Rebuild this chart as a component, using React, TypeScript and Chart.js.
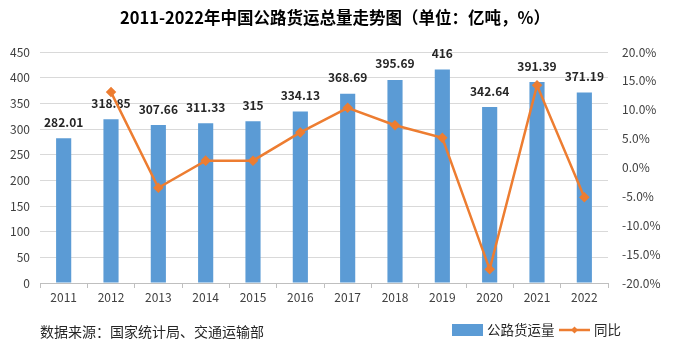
import React, { useEffect, useRef } from "react";
import { Chart, registerables } from "chart.js";

Chart.register(...registerables);

const years = ["2011", "2012", "2013", "2014", "2015", "2016", "2017", "2018", "2019", "2020", "2021", "2022"];
const freight = [282.01, 318.85, 307.66, 311.33, 315, 334.13, 368.69, 395.69, 416, 342.64, 391.39, 371.19];
const yoy = [null, 13.06, -3.51, 1.19, 1.18, 6.07, 10.34, 7.32, 5.13, -17.63, 14.23, -5.16];
const titleText = "2011-2022年中国公路货运总量走势图（单位：亿吨，%）";
const sourceText = "数据来源：国家统计局、交通运输部";
const barLabel = "公路货运量";
const lineLabel = "同比";

const FONT = "'Noto Sans CJK SC', 'Noto Sans', sans-serif";
const BLUE = "#5B9BD5";
const ORANGE = "#ED7D31";

export default function App() {
  const ref = useRef<HTMLCanvasElement>(null);
  useEffect(() => {
    const canvas = ref.current!;
    const deco = {
      id: "deco",
      beforeDatasetsDraw(chart: any) {
        const ctx = chart.ctx;
        const meta = chart.getDatasetMeta(1);
        ctx.save();
        ctx.font = `bold 12px ${FONT}`;
        ctx.fillStyle = "#262626";
        ctx.textAlign = "center";
        ctx.textBaseline = "middle";
        meta.data.forEach((el: any, i: number) => {
          ctx.fillText(String(freight[i]), el.x, el.y - 16);
        });
        ctx.restore();
      },
      afterDraw(chart: any) {
        const ctx = chart.ctx;
        ctx.save();
        ctx.fillStyle = "#000";
        ctx.font = `bold 16.5px ${FONT}`;
        ctx.textAlign = "center";
        ctx.textBaseline = "middle";
        ctx.fillText(titleText, 335, 18);
        ctx.font = `14px ${FONT}`;
        ctx.fillStyle = "#262626";
        ctx.textAlign = "left";
        ctx.fillText(sourceText, 40, 332);
        // legend
        ctx.fillStyle = BLUE;
        ctx.fillRect(452, 324, 31, 12);
        ctx.fillStyle = "#262626";
        ctx.font = `13.5px ${FONT}`;
        ctx.fillText(barLabel, 487, 330);
        ctx.strokeStyle = ORANGE;
        ctx.lineWidth = 2.5;
        ctx.beginPath();
        ctx.moveTo(559, 330);
        ctx.lineTo(590, 330);
        ctx.stroke();
        ctx.fillStyle = ORANGE;
        ctx.beginPath();
        ctx.moveTo(574.5, 326.5);
        ctx.lineTo(578, 330);
        ctx.lineTo(574.5, 333.5);
        ctx.lineTo(571, 330);
        ctx.closePath();
        ctx.fill();
        ctx.fillStyle = "#262626";
        ctx.fillText(lineLabel, 594, 330);
        ctx.restore();
      },
    };
    const chart = new Chart(canvas, {
      type: "bar",
      data: {
        labels: years,
        datasets: [
          {
            type: "line",
            label: lineLabel,
            data: yoy as any,
            yAxisID: "y1",
            borderColor: ORANGE,
            backgroundColor: ORANGE,
            borderWidth: 2.5,
            pointStyle: "rectRot",
            pointRadius: 3.5,
            pointBackgroundColor: ORANGE,
            pointBorderColor: ORANGE,
            tension: 0,
            order: 0,
          } as any,
          {
            type: "bar",
            label: barLabel,
            data: freight,
            yAxisID: "y",
            backgroundColor: BLUE,
            barPercentage: 0.32,
            categoryPercentage: 1,
            order: 1,
          },
        ],
      },
      options: {
        responsive: false,
        animation: false,
        layout: { padding: { top: 52, left: 0, right: 0, bottom: 45 } },
        plugins: { legend: { display: false }, tooltip: { enabled: false } },
        scales: {
          x: {
            grid: {
              display: true,
              drawOnChartArea: false,
              drawTicks: true,
              tickLength: 5,
              color: "#BFBFBF",
              offset: true,
            },
            border: { color: "#BFBFBF" },
            ticks: { font: { family: FONT, size: 12 }, color: "#404040", padding: 2 },
            afterFit(s: any) {
              s.height = 24;
            },
          },
          y: {
            position: "left",
            min: 0,
            max: 450,
            ticks: { stepSize: 50, font: { family: FONT, size: 12 }, color: "#404040", padding: 10 },
            grid: { color: "#D9D9D9", drawTicks: false },
            border: { display: false },
            afterFit(s: any) {
              s.width = 40;
            },
          },
          y1: {
            position: "right",
            min: -20,
            max: 20,
            ticks: {
              stepSize: 5,
              font: { family: FONT, size: 12 },
              color: "#404040",
              padding: 14,
              callback: (v: any) => Number(v).toFixed(1) + "%",
            },
            grid: { display: false, drawTicks: false },
            border: { display: false },
            afterFit(s: any) {
              s.width = 69;
            },
          },
        },
      },
      plugins: [deco],
    });
    return () => chart.destroy();
  }, []);
  return (
    <div style={{ position: "fixed", left: 0, top: 0, width: 677, height: 352, background: "#fff" }}>
      <canvas ref={ref} width={677} height={352} style={{ display: "block" }} />
    </div>
  );
}
